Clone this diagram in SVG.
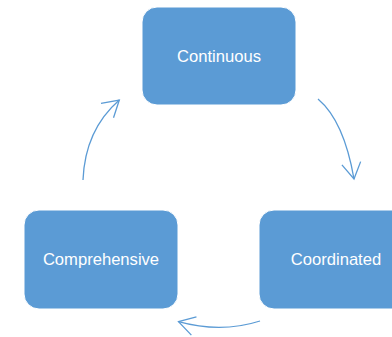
<svg xmlns="http://www.w3.org/2000/svg" width="392" height="337" viewBox="0 0 392 337">
  <style>
    .box { fill: #5B9BD5; stroke: #ffffff; stroke-width: 1; }
    .lbl { fill: #ffffff; font-family: "Liberation Sans", Arial, sans-serif; font-size: 16.6px; text-anchor: middle; }
    .arc { fill: none; stroke: #5B9BD5; stroke-width: 1.3; marker-end: url(#open); }
  </style>
  <defs>
    <marker id="open" markerUnits="userSpaceOnUse" markerWidth="24" markerHeight="24" viewBox="-20 -12 24 24" refX="0" refY="0" orient="auto">
      <path d="M-16,-9.5 L0,0 L-16,9.5" fill="none" stroke="#5B9BD5" stroke-width="1.3"/>
    </marker>
  </defs>
  <rect width="392" height="337" fill="#ffffff"/>
  <g id="connectors">
    <path class="arc" d="M318,99 Q344,121 354,179"/>
    <path class="arc" d="M260,321 Q221,333.5 178.5,321.7"/>
    <path class="arc" d="M83,180 Q85,130 119.3,100"/>
  </g>
  <g id="node-continuous">
    <rect class="box" x="142" y="7" width="154" height="98" rx="15"/>
    <text class="lbl" x="219" y="62">Continuous</text>
  </g>
  <g id="node-coordinated">
    <rect class="box" x="259" y="210" width="154" height="99" rx="15"/>
    <text class="lbl" x="336" y="265">Coordinated</text>
  </g>
  <g id="node-comprehensive">
    <rect class="box" x="24" y="210" width="154" height="99" rx="15"/>
    <text class="lbl" x="101" y="265">Comprehensive</text>
  </g>
</svg>
